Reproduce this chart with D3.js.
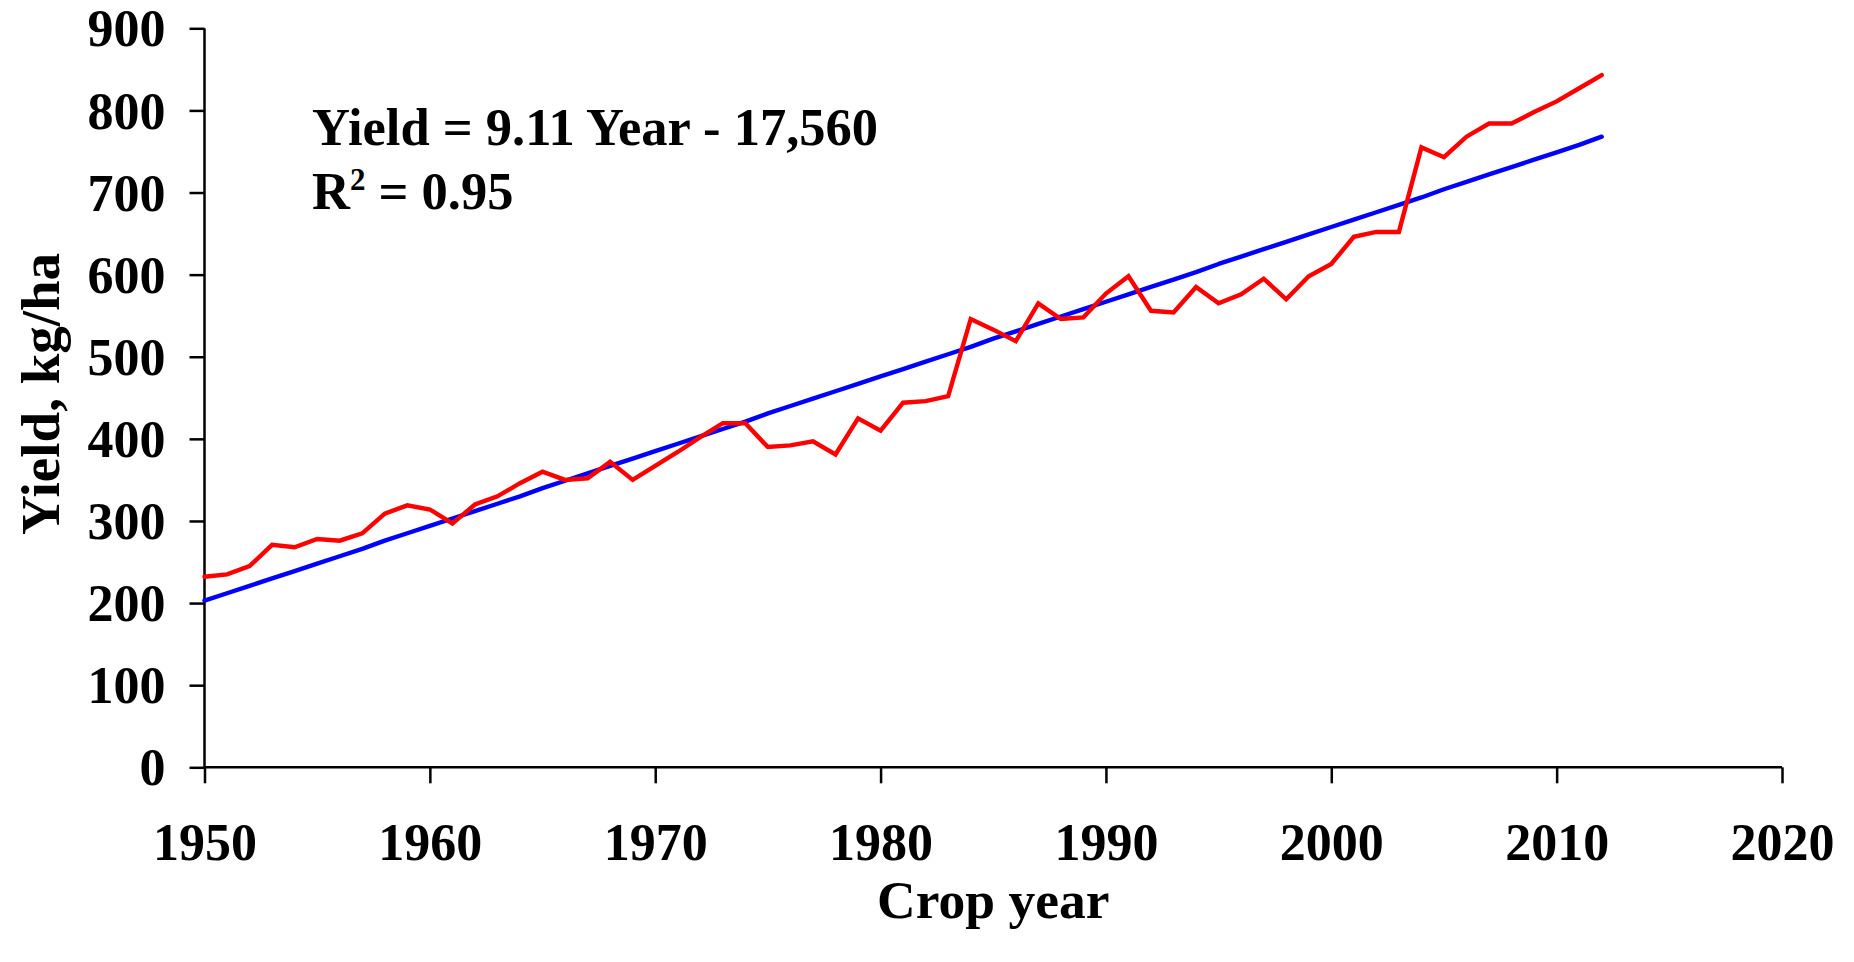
<!DOCTYPE html>
<html>
<head>
<meta charset="utf-8">
<script src="https://cdn.jsdelivr.net/npm/d3@7/dist/d3.min.js"></script>
<style>
  html, body { margin: 0; padding: 0; background: #fff; }
  svg { display: block; }
  text { font-family: "Liberation Serif", "Times New Roman", serif; font-weight: bold; fill: #000; }
</style>
</head>
<body>
<svg id="chart" width="1854" height="962"></svg>
<script>
// ---- data ----
const years = [1950,1951,1952,1953,1954,1955,1956,1957,1958,1959,1960,1961,1962,1963,1964,1965,1966,1967,1968,1969,
  1970,1971,1972,1973,1974,1975,1976,1977,1978,1979,1980,1981,1982,1983,1984,1985,1986,1987,1988,1989,
  1990,1991,1992,1993,1994,1995,1996,1997,1998,1999,2000,2001,2002,2003,2004,2005,2006,2007,2008,2009,
  2010,2011,2012];
const yieldActual = [232,235,245,271,268,278,276,285,309,319,314,297,320,330,346,360,350,352,372,350,
  367,384,402,419,419,390,392,397,381,425,410,444,446,452,546,533,519,565,546,548,
  577,598,556,554,585,565,576,595,570,598,613,646,652,652,755,743,768,784,784,798,
  811,827,843];
const yieldTrend = [203,212,221,230,239,248,257,266,276,285,294,303,312,321,330,340,349,358,367,376,
  385,394,403,412,421,431,440,449,458,467,476,485,494,503,512,522,531,540,549,558,
  567,576,585,594,603,613,622,631,640,649,658,667,676,685,694,704,713,722,731,740,
  749,758,768];
const xTicks = [1950,1960,1970,1980,1990,2000,2010,2020];
const yTicks = [0,100,200,300,400,500,600,700,800,900];
const equationText = "Yield = 9.11 Year - 17,560";
const r2Value = "0.95";
const xTitle = "Crop year";
const yTitle = "Yield, kg/ha";

// ---- layout ----
const svg = d3.select("#chart");
const mLeft = 204.5, mRight = 1782, mTop = 28.3, mBottom = 767.3;

const x = d3.scaleLinear().domain([1950, 2020]).range([mLeft, mRight]);
const y = d3.scaleLinear().domain([0, 900]).range([mBottom, mTop]);

// axes
const xAxis = d3.axisBottom(x).tickValues(xTicks).tickFormat(d3.format("d")).tickSize(16).tickPadding(40);
const yAxis = d3.axisLeft(y).tickValues(yTicks).tickFormat(d3.format("d")).tickSize(15).tickPadding(24);

const gx = svg.append("g").attr("transform", `translate(0,${mBottom})`).call(xAxis);
const gy = svg.append("g").attr("transform", `translate(${mLeft},0)`).call(yAxis);

[gx, gy].forEach(g => {
  g.select(".domain").attr("stroke", "#000").attr("stroke-width", 2.5);
  g.selectAll(".tick line").attr("stroke", "#000").attr("stroke-width", 2.5);
  g.selectAll(".tick text").style("font-family", '"Liberation Serif", serif')
    .style("font-weight", "bold").attr("fill", "#000").style("font-size", "52px");
});
gy.selectAll(".tick text").attr("dy", "0.34em");
gx.select(".domain").attr("d", `M${mLeft},0H${mRight}`);
gy.select(".domain").attr("d", `M0,${mBottom}V${mTop}`);

// lines
const line = d3.line().x((d, i) => x(years[i])).y(d => y(d));

svg.append("path").datum(yieldTrend)
  .attr("fill", "none").attr("stroke", "#0000FF").attr("stroke-width", 4.4)
  .attr("stroke-linejoin", "round").attr("stroke-linecap", "round")
  .attr("d", line);

svg.append("path").datum(yieldActual)
  .attr("fill", "none").attr("stroke", "#FF0000").attr("stroke-width", 4.4)
  .attr("stroke-linejoin", "miter").attr("stroke-linecap", "round")
  .attr("d", line);

// annotations
svg.append("text").attr("x", 312).attr("y", 145).style("font-size", "52.5px").text(equationText);
const r2 = svg.append("text").attr("x", 312).attr("y", 208.5).style("font-size", "52.5px");
r2.append("tspan").text("R");
r2.append("tspan").attr("dy", -19).style("font-size", "31px").text("2");
r2.append("tspan").attr("dy", 19).text(" = " + r2Value);

// axis titles
svg.append("text").attr("x", (mLeft + mRight) / 2).attr("y", 918)
  .attr("text-anchor", "middle").style("font-size", "53.5px").text(xTitle);
svg.append("text").attr("transform", `translate(59,394) rotate(-90)`)
  .attr("text-anchor", "middle").style("font-size", "55px").text(yTitle);
</script>
</body>
</html>
